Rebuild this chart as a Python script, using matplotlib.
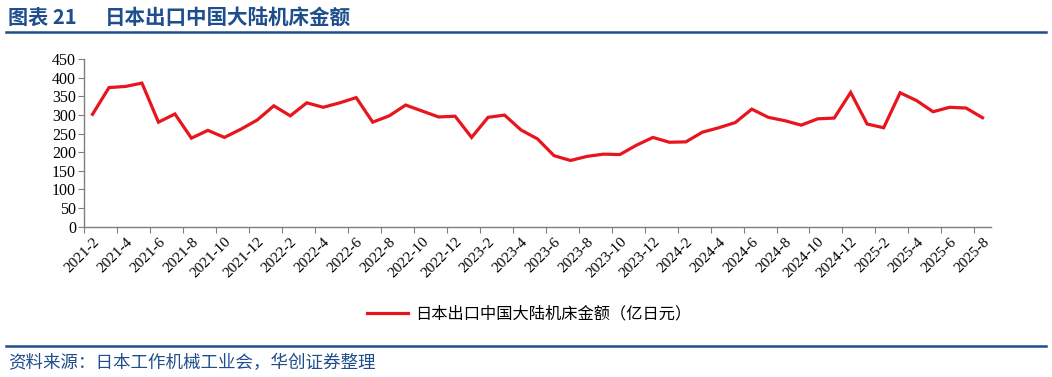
import matplotlib.pyplot as plt
from matplotlib.lines import Line2D

# monthly, 2021-2 .. 2025-8 (亿日元)
months = []
for y in range(2021, 2026):
    for m in range(1, 13):
        if (y == 2021 and m < 2) or (y == 2025 and m > 8):
            continue
        months.append(str(y) + '-' + str(m))

values = [302, 374, 377, 386, 281, 303, 238, 259, 240, 262,
          287, 325, 298, 333, 321, 333, 347, 281, 298, 327,
          311, 295, 297, 240, 294, 300, 260, 236, 191, 178,
          189, 195, 194, 219, 240, 227, 228, 254, 266, 280,
          316, 294, 285, 273, 290, 292, 361, 276, 266, 360,
          339, 309, 321, 319, 293]

series_name = '日本出口中国大陆机床金额（亿日元）'
title_a = '图表 21'
title_b = '日本出口中国大陆机床金额'
source = '资料来源：日本工作机械工业会，华创证券整理'

blue = '#1F4E8C'
red = '#E8141E'
axis_grey = '#7F7F7F'
cjk = ['Noto Sans CJK SC', 'DejaVu Sans']

fig = plt.figure(figsize=(10.52, 3.77), dpi=100)
ax = fig.add_axes([0.0801, 0.3987, 0.8617, 0.444])

x = list(range(len(values)))
ax.plot(x, values, color=red, lw=2.3, solid_joinstyle='miter')

ax.set_xlim(-0.5, len(values) - 0.5)
ax.set_ylim(0, 450)
ax.set_yticks(range(0, 451, 50))

# tick marks between categories, labels on every other month
ax.set_xticks([i - 0.5 for i in range(0, len(values) + 1, 2)])
ax.set_xticklabels([])
ax.set_xticks(x[::2], minor=True)
ax.set_xticklabels(months[::2], minor=True, rotation=45, ha='right',
                   rotation_mode='anchor', fontsize=11,
                   family='Liberation Serif')
ax.tick_params(axis='x', which='minor', length=0, pad=6)
ax.tick_params(axis='x', which='major', length=4, color=axis_grey, direction='out')
ax.tick_params(axis='y', length=4, color=axis_grey, direction='out', pad=2)
for lab in ax.get_yticklabels():
    lab.set_family('Liberation Serif')
    lab.set_fontsize(11.5)

for s in ['top', 'right']:
    ax.spines[s].set_visible(False)
for s in ['left', 'bottom']:
    ax.spines[s].set_color(axis_grey)
    ax.spines[s].set_linewidth(1)

# legend
handle = Line2D([], [], color=red, lw=2.3)
leg = fig.legend([handle], [series_name], loc='center', bbox_to_anchor=(0.503, 0.167),
                 frameon=False, handlelength=2.5, handletextpad=0.45,
                 prop={'family': cjk, 'size': 11.7})

# header and footer
fig.text(0.008, 0.955, title_a, color=blue, fontsize=14.5, fontweight='bold',
         family=cjk, va='center')
fig.text(0.1, 0.955, title_b, color=blue, fontsize=14.8, fontweight='bold',
         family=cjk, va='center')
fig.add_artist(Line2D([0.006, 0.994], [0.915, 0.915], color=blue, lw=1.8))
fig.add_artist(Line2D([0.006, 0.994], [0.082, 0.082], color=blue, lw=1.8))
fig.text(0.008, 0.038, source, color=blue, fontsize=12.6, style='italic',
         family=cjk, va='center')

plt.savefig('out.png', dpi=100)
